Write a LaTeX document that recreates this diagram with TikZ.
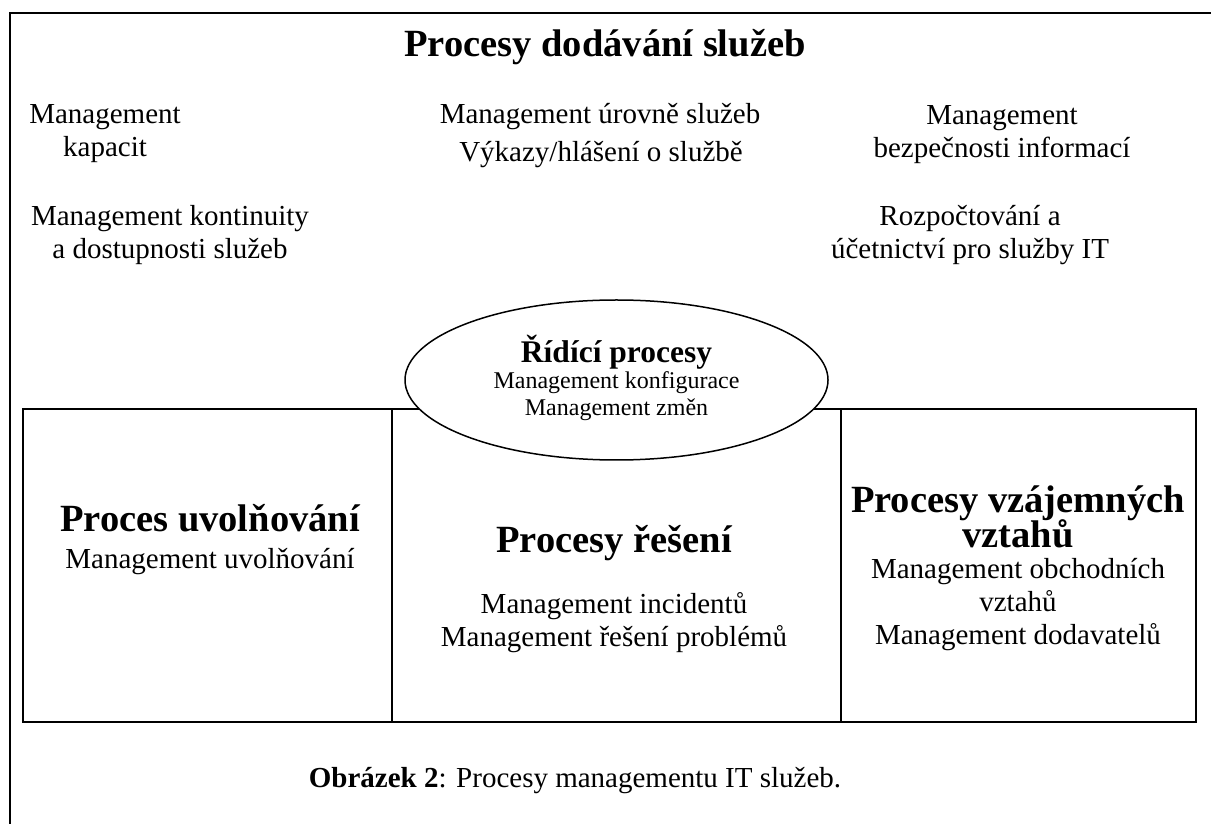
\documentclass[tikz,border=0pt]{standalone}
\usepackage{fontspec}
\setmainfont{Liberation Serif}
\usetikzlibrary{shapes.geometric}
\newcommand\tightlines{\lineskiplimit=-20pt\relax}
\begin{document}
\begin{tikzpicture}[x=0.4pt,y=-0.4pt,
	txt/.style={align=center,inner sep=0pt,font=\fontsize{11.6}{13.2}\selectfont},
	head/.style={align=center,inner sep=0pt,font=\fontsize{15.4}{13.8}\selectfont\bfseries\tightlines},
	small/.style={align=center,inner sep=0pt,font=\fontsize{9.6}{11}\selectfont}]
	\useasboundingbox (0,0) rectangle (1211,824);
	% frame and the three boxes
	\draw[line width=0.8pt] (1211,13) -- (10,13) -- (10,824);
	\draw[line width=0.6pt] (23,409) rectangle (1196,722);
	\draw[line width=0.6pt] (392,409) -- (392,722);
	\draw[line width=0.6pt] (841,409) -- (841,722);

	\node[head] (dod) at (605,47) {Procesy dodávání služeb};
	\node[txt] (kap) at (105,134) {Management\\kapacit};
	\node[txt] (kont) at (170,235) {Management kontinuity\\a dostupnosti služeb};
	\node[txt] (sla) at (600,117) {Management úrovně služeb};
	\node[txt] (vyk) at (601,155) {Výkazy/hlášení o službě};
	\node[txt] (bezp) at (1002,135) {Management\\bezpečnosti informací};
	\node[txt] (rozp) at (970,235) {Rozpočtování a\\účetnictví pro služby IT};

	\node[draw,ellipse,fill=white,line width=0.6pt,minimum width=169.2pt,minimum height=64pt] (ridici) at (616.5,380) {};
	\node[head,font=\fontsize{12.6}{12}\selectfont\bfseries] (ridh) at (616.5,352) {Řídící procesy};
	\node[small] (konf) at (616.5,383) {Management konfigurace};
	\node[small] (zmen) at (616.5,410) {Management změn};

	\node[head] (uvolh) at (210,518) {Proces uvolňování};
	\node[txt] (uvol) at (210,562) {Management uvolňování};
	\node[head] (resh) at (614,543) {Procesy řešení};
	\node[txt] (res) at (614,623) {Management incidentů\\Management řešení problémů};
	\node[head] (vzth) at (1018,517) {Procesy vzájemných\\vztahů};
	\node[txt] (vzt) at (1018,605) {Management obchodních\\vztahů\\Management dodavatelů};

	\node[txt] (capt) at (575,781) {\textbf{Obrázek 2}: Procesy managementu IT služeb.};
\end{tikzpicture}
\end{document}
